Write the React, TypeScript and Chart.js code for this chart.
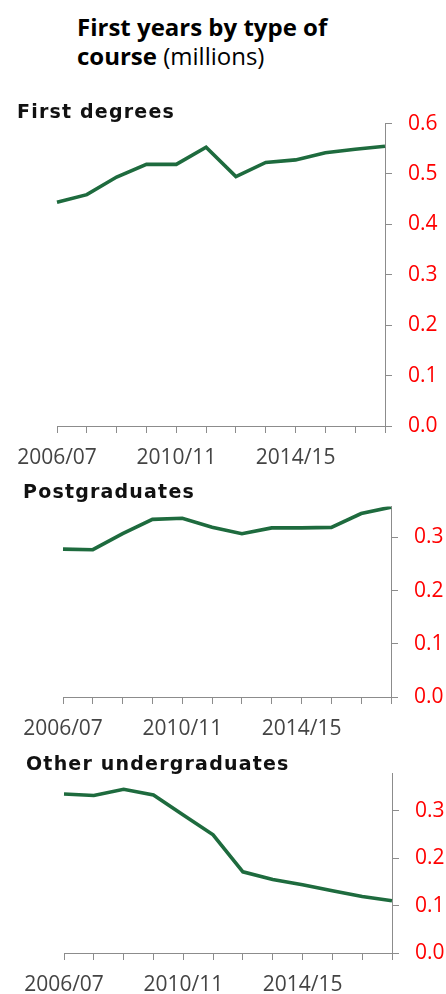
import React, { useEffect, useRef } from "react";
import { Chart, registerables } from "chart.js";

Chart.register(...registerables);

// ---- data ----
const categories = [
  "2006/07", "2007/08", "2008/09", "2009/10", "2010/11", "2011/12",
  "2012/13", "2013/14", "2014/15", "2015/16", "2016/17", "2017/18",
];
const firstDegrees = [0.444, 0.459, 0.494, 0.519, 0.519, 0.553, 0.495, 0.523, 0.528, 0.542, 0.549, 0.555];
const postgraduates = [0.278, 0.277, 0.307, 0.334, 0.336, 0.319, 0.307, 0.318, 0.318, 0.319, 0.345, 0.357];
const otherUndergraduates = [0.335, 0.332, 0.345, 0.333, 0.291, 0.249, 0.171, 0.155, 0.144, 0.131, 0.119, 0.110];
const firstDegreesTicks = [0, 0.1, 0.2, 0.3, 0.4, 0.5, 0.6];
const postgraduatesTicks = [0, 0.1, 0.2, 0.3];
const otherUndergraduatesTicks = [0, 0.1, 0.2, 0.3];
const firstDegreesMax = 0.6;
const postgraduatesMax = 0.358;
const otherUndergraduatesMax = 0.378;
const labelEvery = 4;

const GREEN = "#1e6b3e";
const AXIS = "#8c8c8c";
const TICK_FONT = "'Open Sans', 'Liberation Sans', sans-serif";

type PanelProps = {
  values: number[];
  tickValues: number[];
  yMax: number;
  top: number;
  height: number;
  left: number;
  plotTop: number;
  axisWidth: number;
  axisHeight: number;
};

function Panel({ values, tickValues, yMax, top, height, left, plotTop, axisWidth, axisHeight }: PanelProps) {
  const ref = useRef<HTMLCanvasElement>(null);
  useEffect(() => {
    const chart = new Chart(ref.current!, {
      type: "line",
      data: {
        labels: categories,
        datasets: [
          {
            data: values,
            borderColor: GREEN,
            borderWidth: 3.6,
            pointRadius: 0,
            tension: 0,
            fill: false,
          },
        ],
      },
      options: {
        animation: false,
        responsive: false,
        maintainAspectRatio: false,
        layout: { padding: { left, top: plotTop, right: 0, bottom: 0 } },
        plugins: { legend: { display: false }, tooltip: { enabled: false } },
        scales: {
          x: {
            type: "category",
            offset: false,
            grid: { drawOnChartArea: false, drawTicks: true, tickLength: 7, color: AXIS, lineWidth: 1 },
            border: { display: true, color: AXIS, width: 1 },
            ticks: {
              autoSkip: false,
              maxRotation: 0,
              minRotation: 0,
              padding: 12,
              color: "#444444",
              font: { family: TICK_FONT, size: 21 },
              callback: (_v: any, i: number) => (i % labelEvery === 0 ? categories[i] : ""),
            },
            afterFit: (s: any) => {
              s.height = axisHeight;
            },
          },
          y: {
            position: "right",
            min: 0,
            max: yMax,
            afterBuildTicks: (s: any) => {
              s.ticks = tickValues.map((v) => ({ value: v }));
            },
            grid: { drawOnChartArea: false, drawTicks: true, tickLength: 7, color: AXIS, lineWidth: 1 },
            border: { display: true, color: AXIS, width: 1 },
            ticks: {
              padding: 16,
              color: "#ff0000",
              font: { family: TICK_FONT, size: 21 },
              callback: (v: any) => Number(v).toFixed(1),
            },
            afterFit: (s: any) => {
              s.width = axisWidth;
            },
          },
        },
      },
    } as any);
    return () => chart.destroy();
  }, []);
  return (
    <canvas
      ref={ref}
      width={446}
      height={height}
      style={{ position: "absolute", left: 0, top, width: 446, height, display: "block" }}
    />
  );
}

const subStyle: React.CSSProperties = {
  position: "absolute",
  fontFamily: "'DejaVu Sans', Verdana, sans-serif",
  fontWeight: "bold",
  fontSize: 19,
  lineHeight: "20px",
  letterSpacing: "1.2px",
  color: "#111",
  whiteSpace: "nowrap",
};

export default function App() {
  return (
    <div
      style={{
        position: "absolute",
        left: 0,
        top: 0,
        width: 446,
        height: 994,
        background: "#fff",
        overflow: "hidden",
      }}
    >
      <div
        style={{
          position: "absolute",
          left: 77,
          top: 12,
          fontFamily: "'Open Sans', sans-serif",
          fontSize: 24,
          lineHeight: "29px",
          color: "#000",
          whiteSpace: "nowrap",
        }}
      >
        <div style={{ fontWeight: "bold" }}>First years by type of</div>
        <div>
          <span style={{ fontWeight: "bold" }}>course</span> <span style={{ fontWeight: "normal" }}>(millions)</span>
        </div>
      </div>

      <Panel
        values={firstDegrees}
        tickValues={firstDegreesTicks}
        yMax={firstDegreesMax}
        top={95}
        height={375}
        left={57}
        plotTop={25}
        axisWidth={61}
        axisHeight={44}
      />
      <Panel
        values={postgraduates}
        tickValues={postgraduatesTicks}
        yMax={postgraduatesMax}
        top={478}
        height={267}
        left={63}
        plotTop={19}
        axisWidth={55}
        axisHeight={48}
      />
      <Panel
        values={otherUndergraduates}
        tickValues={otherUndergraduatesTicks}
        yMax={otherUndergraduatesMax}
        top={745}
        height={249}
        left={64}
        plotTop={19}
        axisWidth={54}
        axisHeight={41}
      />

      <div style={{ ...subStyle, left: 17, top: 101 }}>First degrees</div>
      <div style={{ ...subStyle, left: 23, top: 481 }}>Postgraduates</div>
      <div style={{ ...subStyle, left: 26, top: 753 }}>Other undergraduates</div>
    </div>
  );
}
